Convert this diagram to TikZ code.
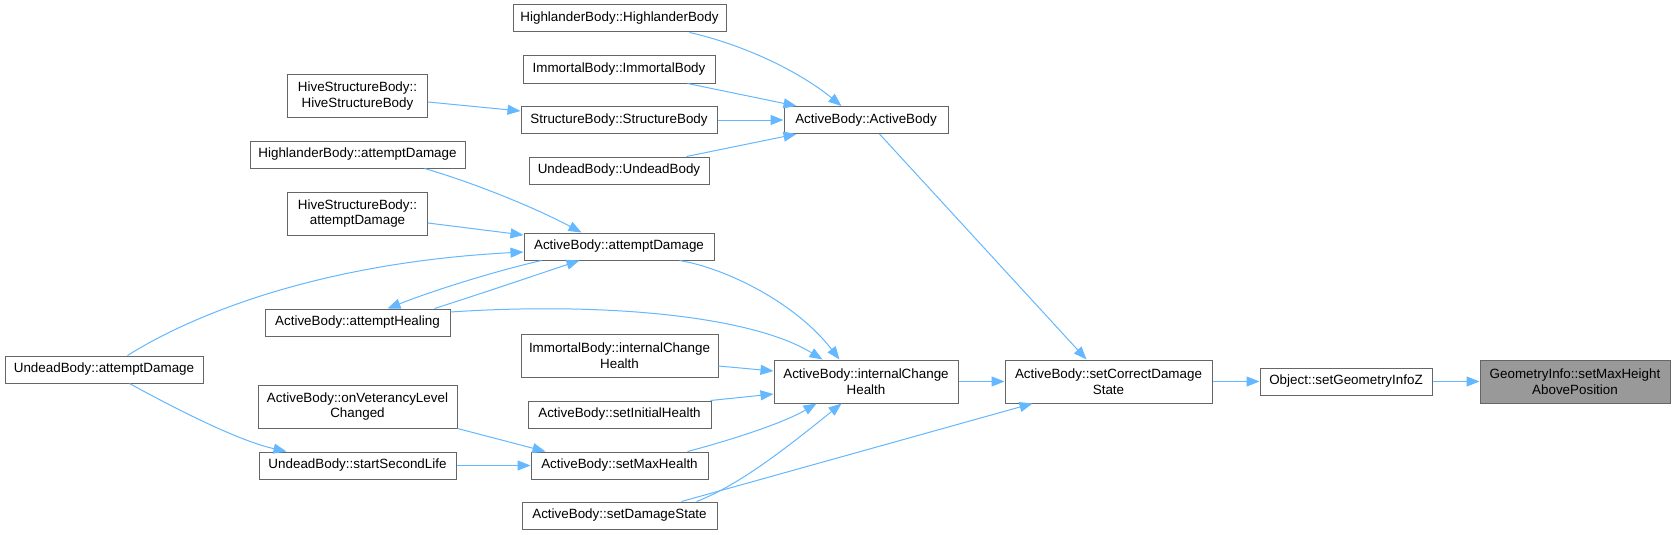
\documentclass[tikz,border=0pt]{standalone}
\usepackage{fontspec}
\setmainfont{Liberation Sans}
\usetikzlibrary{arrows.meta}
\definecolor{arrowblue}{HTML}{63B8FF}
\definecolor{boxgray}{HTML}{666666}
\definecolor{hlfill}{HTML}{999999}
\tikzset{
  box/.style={draw=boxgray, line width=1pt, fill=white, inner sep=0pt,
    minimum height=27pt, font=\fontsize{13.4}{15.8}\selectfont, align=center},
  tall/.style={minimum height=43pt},
  cur/.style={fill=hlfill},
  conn/.style={draw=arrowblue, line width=1pt, -{Triangle[length=13pt,width=10pt]}}
}
\begin{document}
\begin{tikzpicture}[x=1pt,y=-1pt]
\fill[white] (0,0) rectangle (1675,535);
\useasboundingbox (0,0) rectangle (1675,535);

\node[box, minimum width=213pt] (n1) at (619.5,18.5) {HighlanderBody::HighlanderBody};
\node[box, minimum width=192pt] (n2) at (619,69.5) {ImmortalBody::ImmortalBody};
\node[box, minimum width=196pt] (n3) at (619,120) {StructureBody::StructureBody};
\node[box, minimum width=180pt] (n4) at (619,170.5) {UndeadBody::UndeadBody};
\node[box, tall, minimum width=140pt] (n5) at (357.5,96) {HiveStructureBody::\\HiveStructureBody};
\node[box, minimum width=164pt] (n6) at (866,120) {ActiveBody::ActiveBody};
\node[box, minimum width=215pt] (n7) at (357.5,154.5) {HighlanderBody::attemptDamage};
\node[box, tall, minimum width=140pt] (n8) at (357.5,213.5) {HiveStructureBody::\\attemptDamage};
\node[box, minimum width=190pt] (n9) at (619,246.5) {ActiveBody::attemptDamage};
\node[box, minimum width=185pt] (n10) at (357.5,322.5) {ActiveBody::attemptHealing};
\node[box, minimum width=198pt] (n11) at (104,369.5) {UndeadBody::attemptDamage};
\node[box, tall, minimum width=197pt] (n12) at (619.5,356) {ImmortalBody::internalChange\\Health};
\node[box, tall, minimum width=184pt] (n13) at (866,381.5) {ActiveBody::internalChange\\Health};
\node[box, minimum width=183pt] (n14) at (619.5,414.5) {ActiveBody::setInitialHealth};
\node[box, tall, minimum width=199pt] (n15) at (357.5,406.5) {ActiveBody::onVeterancyLevel\\Changed};
\node[box, minimum width=197pt] (n16) at (357.5,465.5) {UndeadBody::startSecondLife};
\node[box, minimum width=177pt] (n17) at (619.5,465.5) {ActiveBody::setMaxHealth};
\node[box, minimum width=195pt] (n18) at (619.5,515.5) {ActiveBody::setDamageState};
\node[box, tall, minimum width=207pt] (n19) at (1108.5,381.5) {ActiveBody::setCorrectDamage\\State};
\node[box, minimum width=172pt] (n20) at (1346,381.5) {Object::setGeometryInfoZ};
\node[box, tall, cur, minimum width=190pt] (n21) at (1575,381.5) {GeometryInfo::setMaxHeight\\AbovePosition};

% edges into ActiveBody::ActiveBody
\draw[conn] ([xshift=177pt]n1.south west) .. controls (745,45) and (800,72) .. ([xshift=58pt]n6.north west);
\draw[conn] ([xshift=165pt]n2.south west) -- ([xshift=13pt]n6.north west);
\draw[conn] (n3.east) -- (n6.west);
\draw[conn] ([xshift=158pt]n4.north west) -- ([xshift=13pt]n6.south west);
\draw[conn] ([yshift=-6pt]n5.east) -- ([yshift=9pt]n3.west);
\draw[conn] ([xshift=96pt]n6.south west) -- ([xshift=82pt]n19.north west);

% edges into ActiveBody::attemptDamage
\draw[conn] ([xshift=175pt]n7.south west) .. controls (465,180) and (530,205) .. ([xshift=58pt]n9.north west);
\draw[conn] ([yshift=-9.5pt]n8.east) -- ([yshift=11.5pt]n9.west);
\draw[conn] ([xshift=123pt]n11.north west) .. controls (200,310) and (330,262) .. ([yshift=-5.5pt]n9.west);
\draw[conn] ([xshift=170pt]n10.north west) .. controls (480,294) and (530,277) .. ([xshift=56pt]n9.south west);
\draw[conn] ([xshift=18pt]n9.south west) .. controls (500,270) and (440,288) .. ([xshift=123pt]n10.north west);

% edges into ActiveBody::internalChangeHealth
\draw[conn] ([xshift=156pt]n9.south west) .. controls (725,268) and (795,302) .. ([xshift=66pt]n13.north west);
\draw[conn] ([yshift=10.5pt]n10.east) .. controls (600,302) and (750,315) .. ([xshift=49pt]n13.north west);
\draw[conn] ([yshift=-10pt]n12.east) -- ([yshift=10.5pt]n13.west);
\draw[conn] ([xshift=-1pt]n14.north east) -- ([yshift=-12.5pt]n13.west);
\draw[conn] ([xshift=-21pt]n17.north east) .. controls (720,443) and (780,425) .. ([xshift=43pt]n13.south west);
\draw[conn] ([xshift=175pt]n18.north west) .. controls (740,485) and (790,445) .. ([xshift=68pt]n13.south west);

% edges into setCorrectDamageState and beyond
\draw[conn] ([xshift=160pt]n18.north west) -- ([xshift=28pt]n19.south west);
\draw[conn] (n13.east) -- (n19.west);
\draw[conn] (n19.east) -- (n20.west);
\draw[conn] (n20.east) -- (n21.west);

% lower left
\draw[conn] ([xshift=125pt]n11.south west) .. controls (165,403) and (235,440) .. ([xshift=28pt]n16.north west);
\draw[conn] (n16.east) -- (n17.west);
\draw[conn] (n15.south east) -- ([xshift=15pt]n17.north west);
\end{tikzpicture}
\end{document}
